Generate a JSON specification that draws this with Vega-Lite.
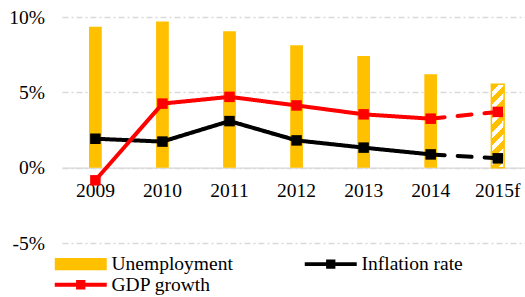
{
  "$schema": "https://vega.github.io/schema/vega-lite/v6.json",
  "width": 463,
  "height": 226,
  "autosize": {"type": "none"},
  "padding": {"left": 62, "top": 17, "right": 0, "bottom": 54},
  "background": "white",
  "config": {
    "font": "Liberation Serif",
    "view": {"stroke": null},
    "axis": {"labelFont": "Liberation Serif", "labelFontSize": 19.5, "labelColor": "#000000"},
    "legend": {"labelFont": "Liberation Serif", "labelFontSize": 19.5, "labelColor": "#000000"}
  },
  "datasets": {
    "unemp": [
      {"year": "2009", "value": 9.35, "seg": "actual"},
      {"year": "2010", "value": 9.7, "seg": "actual"},
      {"year": "2011", "value": 9.05, "seg": "actual"},
      {"year": "2012", "value": 8.12, "seg": "actual"},
      {"year": "2013", "value": 7.41, "seg": "actual"},
      {"year": "2014", "value": 6.2, "seg": "actual"},
      {"year": "2015f", "value": 5.53, "seg": "forecast"}
    ],
    "lines": [
      {"series": "Inflation rate", "year": "2009", "value": 1.92, "seg": "actual"},
      {"series": "Inflation rate", "year": "2010", "value": 1.73, "seg": "actual"},
      {"series": "Inflation rate", "year": "2011", "value": 3.09, "seg": "actual"},
      {"series": "Inflation rate", "year": "2012", "value": 1.81, "seg": "actual"},
      {"series": "Inflation rate", "year": "2013", "value": 1.33, "seg": "actual"},
      {"series": "Inflation rate", "year": "2014", "value": 0.88, "seg": "actual"},
      {"series": "Inflation rate", "year": "2014", "value": 0.88, "seg": "forecast"},
      {"series": "Inflation rate", "year": "2015f", "value": 0.62, "seg": "forecast"},
      {"series": "GDP growth", "year": "2009", "value": -0.84, "seg": "actual"},
      {"series": "GDP growth", "year": "2010", "value": 4.25, "seg": "actual"},
      {"series": "GDP growth", "year": "2011", "value": 4.7, "seg": "actual"},
      {"series": "GDP growth", "year": "2012", "value": 4.13, "seg": "actual"},
      {"series": "GDP growth", "year": "2013", "value": 3.54, "seg": "actual"},
      {"series": "GDP growth", "year": "2014", "value": 3.25, "seg": "actual"},
      {"series": "GDP growth", "year": "2014", "value": 3.25, "seg": "forecast"},
      {"series": "GDP growth", "year": "2015f", "value": 3.7, "seg": "forecast"}
    ]
  },
  "encoding": {
    "x": {
      "field": "year",
      "type": "ordinal",
      "scale": {
        "domain": ["2009", "2010", "2011", "2012", "2013", "2014", "2015f"],
        "paddingInner": 0.81,
        "paddingOuter": 0.357,
        "align": 0.564,
        "round": false
      },
      "axis": {
        "title": null,
        "orient": "bottom",
        "offset": -75.33,
        "labelAngle": 0,
        "ticks": false,
        "tickSize": 0,
        "labelPadding": 14,
        "domain": true,
        "domainColor": "#d9d9d9",
        "domainWidth": 1.3,
        "grid": false
      }
    },
    "y": {
      "field": "value",
      "type": "quantitative",
      "scale": {"domain": [-5, 10], "nice": false, "zero": false},
      "axis": {
        "title": null,
        "values": [-5, 0, 5, 10],
        "labelExpr": "datum.value + '%'",
        "domain": false,
        "ticks": false,
        "tickSize": 0,
        "labelPadding": 17.5,
        "grid": true,
        "gridColor": "#d9d9d9",
        "gridWidth": 1.3,
        "gridDash": [6, 3, 2, 3]
      }
    }
  },
  "layer": [
    {
      "data": {"name": "unemp"},
      "transform": [{"filter": "datum.seg == 'actual'"}, {"calculate": "'Unemployment'", "as": "series"}],
      "mark": {"type": "bar"},
      "encoding": {
        "color": {
          "field": "series",
          "type": "nominal",
          "scale": {
            "domain": ["Unemployment", "Inflation rate", "GDP growth"],
            "range": ["#FFC000", "#000000", "#FF0000"]
          },
          "legend": {
            "title": null,
            "orient": "none",
            "legendX": -11,
            "legendY": 237,
            "direction": "horizontal",
            "columns": 2,
            "columnPadding": 68,
            "rowPadding": 0,
            "symbolSize": 144,
            "symbolOffset": 20,
            "labelOffset": 21,
            "symbolStrokeWidth": 0,
            "encode": {
              "symbols": {
                "update": {
                  "shape": {"signal": "datum.value === 'Unemployment' ? 'M-4.333,-1.033H4.333V1.033H-4.333Z' : 'M-4.333,-0.333H4.333V0.333H-4.333Z M-0.775,-0.775H0.775V0.775H-0.775Z'"},
                  "fill": {"scale": "color", "field": "value"},
                  "stroke": {"value": "transparent"},
                  "opacity": {"value": 1}
                }
              }
            }
          }
        }
      }
    },
    {
      "data": {"name": "unemp"},
      "transform": [{"filter": "datum.seg == 'forecast'"}],
      "mark": {
        "type": "bar",
        "stroke": "#FFC000",
        "strokeWidth": 1.5,
        "fill": {
          "gradient": "linear",
          "x1": 0, "y1": 0, "x2": 0.176, "y2": 1.12,
          "stops": [
            {"offset": 0, "color": "#FFC000"}, {"offset": 0.079, "color": "#FFC000"},
            {"offset": 0.079, "color": "#FFFFFF"}, {"offset": 0.143, "color": "#FFFFFF"},
            {"offset": 0.143, "color": "#FFC000"}, {"offset": 0.222, "color": "#FFC000"},
            {"offset": 0.222, "color": "#FFFFFF"}, {"offset": 0.286, "color": "#FFFFFF"},
            {"offset": 0.286, "color": "#FFC000"}, {"offset": 0.365, "color": "#FFC000"},
            {"offset": 0.365, "color": "#FFFFFF"}, {"offset": 0.429, "color": "#FFFFFF"},
            {"offset": 0.429, "color": "#FFC000"}, {"offset": 0.508, "color": "#FFC000"},
            {"offset": 0.508, "color": "#FFFFFF"}, {"offset": 0.571, "color": "#FFFFFF"},
            {"offset": 0.571, "color": "#FFC000"}, {"offset": 0.651, "color": "#FFC000"},
            {"offset": 0.651, "color": "#FFFFFF"}, {"offset": 0.714, "color": "#FFFFFF"},
            {"offset": 0.714, "color": "#FFC000"}, {"offset": 0.794, "color": "#FFC000"},
            {"offset": 0.794, "color": "#FFFFFF"}, {"offset": 0.857, "color": "#FFFFFF"},
            {"offset": 0.857, "color": "#FFC000"}, {"offset": 0.937, "color": "#FFC000"},
            {"offset": 0.937, "color": "#FFFFFF"}, {"offset": 1, "color": "#FFFFFF"}
          ]
        }
      },
      "encoding": {}
    },
    {
      "data": {"name": "lines"},
      "mark": {"type": "line", "strokeWidth": 4, "strokeCap": "round"},
      "encoding": {
        "color": {"field": "series", "type": "nominal"},
        "strokeDash": {
          "field": "seg",
          "type": "nominal",
          "scale": {"domain": ["actual", "forecast"], "range": [[1, 0], [14, 13]]},
          "legend": null
        }
      }
    },
    {
      "data": {"name": "lines"},
      "transform": [{"filter": "datum.seg == 'actual' || datum.year == '2015f'"}],
      "mark": {"type": "point", "shape": "square", "filled": true, "size": 110, "opacity": 1},
      "encoding": {
        "color": {"field": "series", "type": "nominal"}
      }
    }
  ]
}
